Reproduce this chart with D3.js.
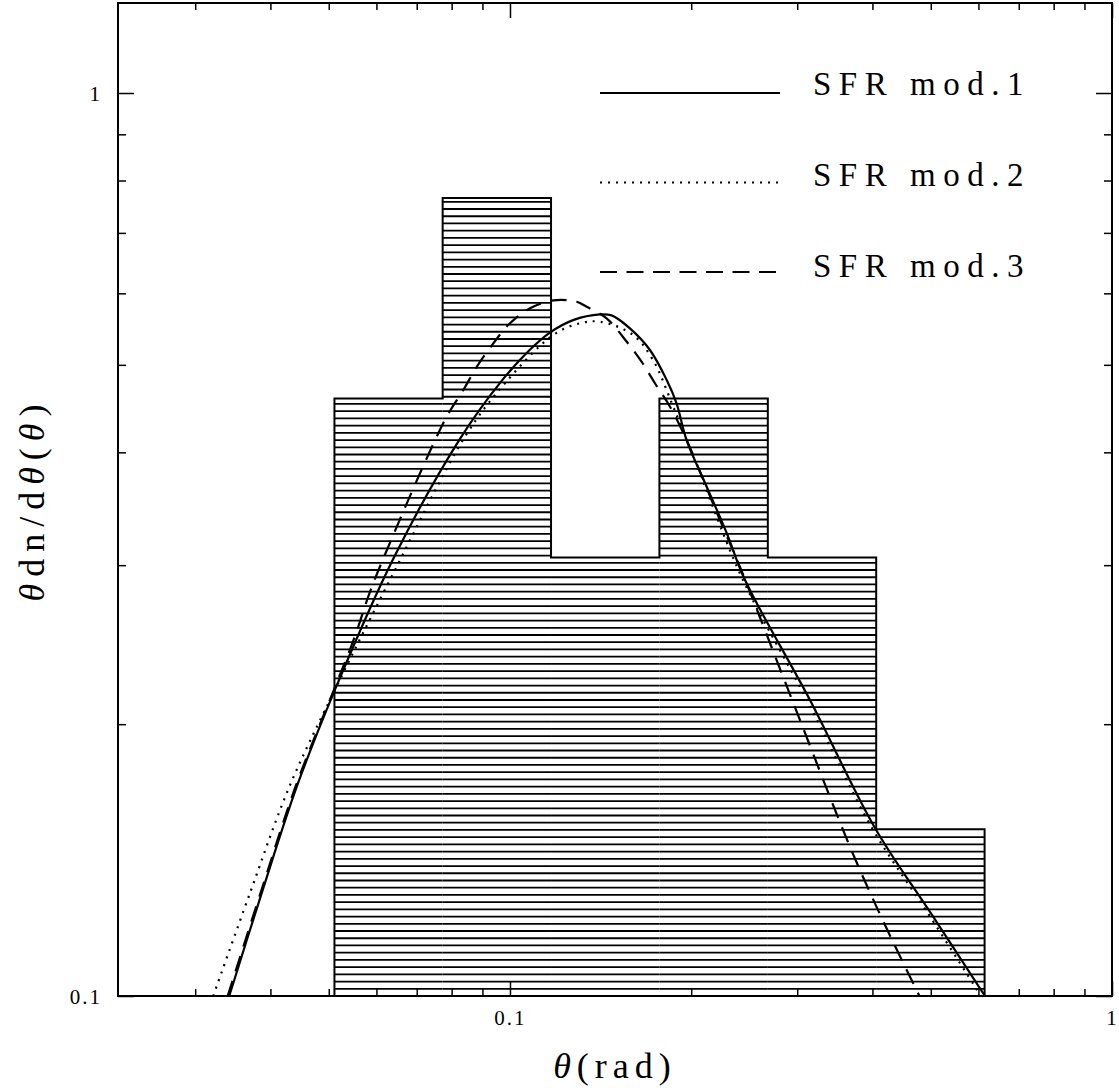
<!DOCTYPE html>
<html>
<head>
<meta charset="utf-8">
<script src="https://cdn.jsdelivr.net/npm/d3@7"></script>
<style>
body { margin: 0; background: #ffffff; }
text { font-family: "Liberation Serif", "DejaVu Serif", serif; fill: #000000; }
</style>
</head>
<body>
<div id="chart"></div>
<script>
// histogram (log bins) and model curves
var binEdges = [0.0511, 0.0773, 0.1170, 0.1771, 0.2681, 0.4058, 0.6143]
var binValues = [0.459, 0.765, 0.306, 0.459, 0.306, 0.153]

var sfrMod1 = [
    [0.03417, 0.100], [0.03869, 0.130], [0.04421, 0.1703], [0.05119, 0.2183],
    [0.06385, 0.304], [0.08259, 0.4140], [0.09687, 0.4800], [0.1080, 0.5199],
    [0.1165, 0.5429], [0.1273, 0.5604], [0.1411, 0.5686], [0.1475, 0.5672],
    [0.1582, 0.5487], [0.1708, 0.5193], [0.1821, 0.4811], [0.1891, 0.4533],
    [0.1965, 0.4127], [0.2122, 0.3664], [0.2291, 0.3256], [0.2457, 0.2888],
    [0.3150, 0.2127], [0.4039, 0.1535], [0.4985, 0.1239], [0.6152, 0.100]
]
var sfrMod2 = [
    [0.03214, 0.100], [0.03699, 0.130], [0.04297, 0.1703], [0.05119, 0.2183],
    [0.06442, 0.2963], [0.08418, 0.4163], [0.0981, 0.4771], [0.1180, 0.5395],
    [0.1307, 0.5559], [0.1411, 0.5581], [0.1602, 0.5395], [0.1728, 0.5062],
    [0.1867, 0.4494], [0.2108, 0.3664], [0.2438, 0.2888], [0.3114, 0.2127],
    [0.3993, 0.1535], [0.4929, 0.1239], [0.6059, 0.100]
]
var sfrMod3 = [
    [0.03397, 0.100], [0.03851, 0.130], [0.0440, 0.1703], [0.05099, 0.2183],
    [0.05458, 0.2447], [0.05634, 0.2598], [0.05815, 0.2768], [0.0608, 0.2988],
    [0.07798, 0.4345], [0.08366, 0.4689], [0.08806, 0.4975], [0.09382, 0.5281],
    [0.1000, 0.5559], [0.1080, 0.5775], [0.1180, 0.5893], [0.1291, 0.5873],
    [0.1341, 0.5798], [0.1447, 0.5629], [0.1563, 0.5303], [0.1655, 0.5038],
    [0.1741, 0.4771], [0.1844, 0.4494], [0.1965, 0.4127], [0.2207, 0.3426],
    [0.2410, 0.2986], [0.2974, 0.2089], [0.3671, 0.1463], [0.4171, 0.1209],
    [0.4788, 0.100]
]

var legendLabels = ['SFR mod.1', 'SFR mod.2', 'SFR mod.3']
var xTickLabels = [0.1, 1]
var yTickLabels = [0.1, 1]

var width = 1119
var height = 1088
var plotLeft = 118, plotRight = 1112, plotTop = 3, plotBottom = 996

var xScale = d3.scaleLog().domain([0.02233, 1]).range([plotLeft, plotRight])
var yScale = d3.scaleLog().domain([0.1, 1.258]).range([plotBottom, plotTop])

var svg = d3.select('#chart').append('svg')
    .attr('width', width)
    .attr('height', height)

svg.append('defs').append('clipPath')
    .attr('id', 'plotclip')
    .append('rect')
    .attr('x', plotLeft)
    .attr('y', plotTop)
    .attr('width', plotRight - plotLeft)
    .attr('height', plotBottom - plotTop)

// hatched histogram
var hatchPitch = 7.22
var hatch = svg.append('g')
for(var i = 0; i < binValues.length; i++){
    var x0 = xScale(binEdges[i])
    var x1 = xScale(binEdges[i + 1])
    var yTop = yScale(binValues[i])
    for(var yy = yScale(0.1) - hatchPitch; yy > yTop + 1; yy -= hatchPitch){
        hatch.append('line')
            .attr('x1', x0)
            .attr('x2', x1)
            .attr('y1', yy)
            .attr('y2', yy)
            .attr('stroke', '#000')
            .attr('stroke-width', 1.8)
    }
}

var outline = [[binEdges[0], 0.1]]
for(var i = 0; i < binValues.length; i++){
    outline.push([binEdges[i], binValues[i]])
    outline.push([binEdges[i + 1], binValues[i]])
}
outline.push([binEdges[binEdges.length - 1], 0.1])

svg.append('path')
    .attr('d', d3.line().x(function(d){ return xScale(d[0]) }).y(function(d){ return yScale(d[1]) })(outline))
    .attr('fill', 'none')
    .attr('stroke', '#000')
    .attr('stroke-width', 2)

// model curves
var curveLine = d3.line()
    .x(function(d){ return xScale(d[0]) })
    .y(function(d){ return yScale(d[1]) })
    .curve(d3.curveCatmullRom.alpha(0.5))

var series = [sfrMod1, sfrMod2, sfrMod3]
var dashes = [null, '2,6', '16,10']

var curves = svg.append('g').attr('clip-path', 'url(#plotclip)')
for(var i = 0; i < series.length; i++){
    curves.append('path')
        .attr('d', curveLine(series[i]))
        .attr('fill', 'none')
        .attr('stroke', '#000')
        .attr('stroke-width', 2.2)
        .attr('stroke-dasharray', dashes[i])
}

// axes: ticks on all four sides, pointing inward
function isDecade(v){
    return Math.abs(Math.log10(v) - Math.round(Math.log10(v))) < 1e-6
}
var xMajor = xScale.ticks().filter(isDecade)
var xMinor = xScale.ticks().filter(function(v){ return !isDecade(v) })
var yMajor = yScale.ticks().filter(isDecade)
var yMinor = yScale.ticks().filter(function(v){ return !isDecade(v) })

function styleAxis(g){
    g.select('.domain').remove()
    g.attr('font-size', 21).attr('font-family', '"Liberation Serif", serif')
    g.selectAll('line').attr('stroke', '#000').attr('stroke-width', 1.5)
}

svg.append('g').attr('transform', 'translate(0,' + plotBottom + ')')
    .call(d3.axisBottom(xScale).tickValues(xMinor).tickSize(-7).tickFormat(''))
    .call(styleAxis)
svg.append('g').attr('transform', 'translate(0,' + plotTop + ')')
    .call(d3.axisTop(xScale).tickValues(xMinor).tickSize(-7).tickFormat(''))
    .call(styleAxis)
svg.append('g').attr('transform', 'translate(0,' + plotTop + ')')
    .call(d3.axisTop(xScale).tickValues(xMajor).tickSize(-15).tickFormat(''))
    .call(styleAxis)
var xAxisMajor = svg.append('g').attr('transform', 'translate(0,' + plotBottom + ')')
    .call(d3.axisBottom(xScale).tickValues(xTickLabels).tickSize(-15).tickFormat(d3.format('')))
    .call(styleAxis)
xAxisMajor.selectAll('text')
    .attr('y', 29)
    .attr('dy', null)
    .attr('letter-spacing', 2)

svg.append('g').attr('transform', 'translate(' + plotLeft + ',0)')
    .call(d3.axisLeft(yScale).tickValues(yMinor).tickSize(-8).tickFormat(''))
    .call(styleAxis)
svg.append('g').attr('transform', 'translate(' + plotRight + ',0)')
    .call(d3.axisRight(yScale).tickValues(yMinor).tickSize(-8).tickFormat(''))
    .call(styleAxis)
svg.append('g').attr('transform', 'translate(' + plotRight + ',0)')
    .call(d3.axisRight(yScale).tickValues(yMajor).tickSize(-16).tickFormat(''))
    .call(styleAxis)
var yAxisMajor = svg.append('g').attr('transform', 'translate(' + plotLeft + ',0)')
    .call(d3.axisLeft(yScale).tickValues(yTickLabels).tickSize(-16).tickPadding(16).tickFormat(d3.format('')))
    .call(styleAxis)
yAxisMajor.selectAll('text')
    .attr('dy', '0.35em')
    .attr('letter-spacing', 2)

// frame
svg.append('rect')
    .attr('x', plotLeft)
    .attr('y', plotTop)
    .attr('width', plotRight - plotLeft)
    .attr('height', plotBottom - plotTop)
    .attr('fill', 'none')
    .attr('stroke', '#000')
    .attr('stroke-width', 2)

// legend
var legendDash = ['', '2,6', '17,9.5']
for(var i = 0; i < legendLabels.length; i++){
    var ly = 93 + i * 89.5
    svg.append('line')
        .attr('x1', 600)
        .attr('x2', 780)
        .attr('y1', ly)
        .attr('y2', ly)
        .attr('stroke', '#000')
        .attr('stroke-width', 2)
        .attr('stroke-dasharray', legendDash[i] || null)
    svg.append('text')
        .attr('x', 813)
        .attr('y', ly + 2 + i * 1.5)
        .attr('font-size', 33)
        .attr('letter-spacing', 7.5)
        .text(legendLabels[i])
}

// axis titles
var xTitle = svg.append('text')
    .attr('x', (plotLeft + plotRight) / 2)
    .attr('y', 1078)
    .attr('text-anchor', 'middle')
    .attr('font-size', 36)
    .attr('letter-spacing', 6)
xTitle.append('tspan').attr('font-style', 'italic').text('θ')
xTitle.append('tspan').text('(rad)')

var yTitle = svg.append('text')
    .attr('transform', 'translate(44,' + ((plotTop + plotBottom) / 2) + ') rotate(-90)')
    .attr('text-anchor', 'middle')
    .attr('font-size', 36)
    .attr('letter-spacing', 7)
yTitle.append('tspan').attr('font-style', 'italic').text('θ')
yTitle.append('tspan').text('dn/d')
yTitle.append('tspan').attr('font-style', 'italic').text('θ')
yTitle.append('tspan').text('(')
yTitle.append('tspan').attr('font-style', 'italic').text('θ')
yTitle.append('tspan').text(')')
</script>
</body>
</html>
